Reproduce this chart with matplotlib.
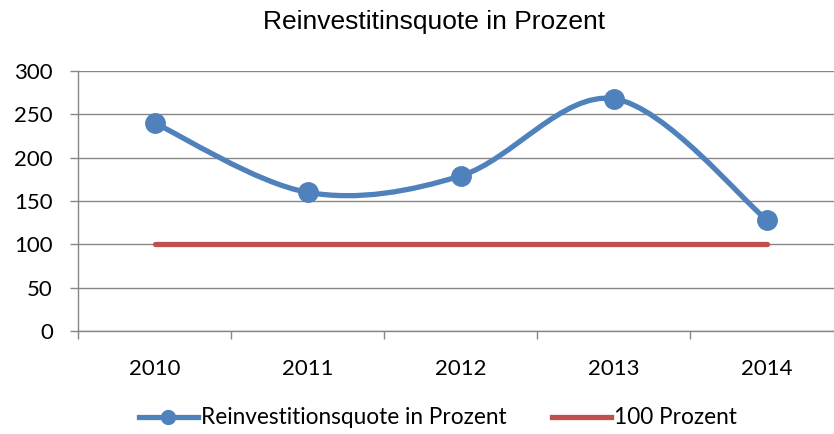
import numpy as np
import matplotlib.pyplot as plt
from matplotlib.path import Path
import matplotlib.patches as mpatches
from matplotlib.lines import Line2D

# data
years = ['2010', '2011', '2012', '2013', '2014']
quote = [240, 160, 179, 268, 128]
baseline = [100, 100, 100, 100, 100]

blue = '#4F81BD'
red = '#C0504D'
grey = '#868686'
tick_font = 'Lato'

fig = plt.figure(figsize=(8.34, 4.34), dpi=100)
ax = fig.add_axes([78/834, 103/434, 765.5/834, 260/434])

x = np.arange(len(years))

# excel style smoothed line (catmull-rom as cubic bezier segments)
pts = np.column_stack([x, quote]).astype(float)
ext = np.vstack([pts[0], pts, pts[-1]])
verts = [tuple(pts[0])]
codes = [Path.MOVETO]
for i in range(len(pts) - 1):
    p0, p1, p2, p3 = ext[i], ext[i+1], ext[i+2], ext[i+3]
    c1 = p1 + (p2 - p0) / 6.
    c2 = p2 - (p3 - p1) / 6.
    verts += [tuple(c1), tuple(c2), tuple(p2)]
    codes += [Path.CURVE4] * 3
curve = mpatches.PathPatch(Path(verts, codes), facecolor='none', edgecolor=blue,
                           lw=3.8, capstyle='round', zorder=3)
ax.add_patch(curve)
ax.plot(x, quote, 'o', color=blue, ms=14, zorder=4)
ax.plot(x, baseline, '-', color=red, lw=3.8, solid_capstyle='round', zorder=3)

ax.set_xlim(-0.5, 4.5)
ax.set_ylim(0, 300)
ax.set_yticks(np.arange(0, 301, 50))
ax.set_xticks(x)
ax.set_xticklabels(years)
ax.set_xticks(np.arange(-0.5, 4.6, 1), minor=True)
ax.grid(axis='y', color=grey, lw=1.0)
ax.set_axisbelow(True)
for s in ['top', 'right']:
    ax.spines[s].set_visible(False)
for s in ['left', 'bottom']:
    ax.spines[s].set_color(grey)
    ax.spines[s].set_linewidth(1.0)
ax.tick_params(axis='y', length=6, color=grey, width=1.0, pad=12)
ax.tick_params(axis='x', which='major', length=0, pad=20)
ax.tick_params(axis='x', which='minor', length=6, color=grey, width=1.0)
for lab in ax.get_xticklabels() + ax.get_yticklabels():
    lab.set_fontfamily(tick_font)
    lab.set_fontsize(16)

fig.text(434/834, 1 - 22/434, 'Reinvestitinsquote in Prozent', ha='center', va='center',
         family='Liberation Sans', fontsize=19)

handles = [Line2D([], [], color=blue, lw=3.8, marker='o', ms=10),
           Line2D([], [], color=red, lw=3.8)]
fig.legend(handles, ['Reinvestitionsquote in Prozent', '100 Prozent'],
           loc='center', bbox_to_anchor=(438/834, 1 - 418/434), ncol=2, frameon=False,
           prop={'family': tick_font, 'size': 16.3}, handlelength=2.6, handletextpad=0.15,
           columnspacing=2.0)

plt.savefig('out.png', dpi=100)
